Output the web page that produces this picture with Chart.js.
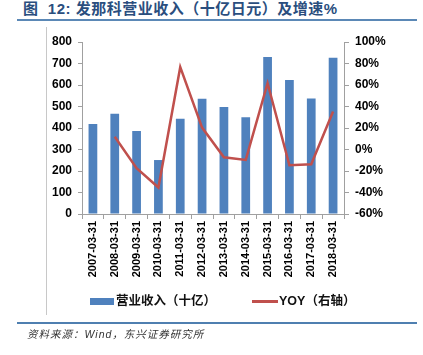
<!DOCTYPE html>
<html><head><meta charset="utf-8">
<script src="https://cdn.jsdelivr.net/npm/chart.js@4/dist/chart.umd.min.js"></script>
<style>
html,body{margin:0;padding:0;background:#fff;width:423px;height:355px;overflow:hidden;position:relative;font-family:"Liberation Sans","Noto Sans CJK SC",sans-serif;}
#title{position:absolute;left:23px;top:0px;font-size:15px;font-weight:bold;color:#2A4E7E;white-space:pre;letter-spacing:0.5px;font-family:"Liberation Sans","Noto Sans CJK SC",sans-serif;line-height:17px;}
#topline{position:absolute;left:17px;top:19px;width:400px;height:2px;background:#5B88B6;}
#vline{position:absolute;left:46px;top:27px;width:1px;height:288px;background:#c8c8c8;}
#botline{position:absolute;left:17px;top:322px;width:400px;height:2px;background:#4F7FB0;}
#src{position:absolute;left:27px;top:327px;font-size:10.5px;font-style:italic;color:#333;white-space:nowrap;letter-spacing:1px;line-height:14px;}
#c{position:absolute;left:0;top:0;}
.leg{position:absolute;top:293px;font-size:12.5px;font-weight:bold;color:#111;white-space:nowrap;line-height:16px;font-family:"Liberation Sans","Noto Sans CJK SC",sans-serif;}
.sw{position:absolute;}
</style></head>
<body>
<div id="title">图  12: 发那科营业收入（十亿日元）及增速%</div>
<div id="topline"></div>
<div id="vline"></div>
<canvas id="c" width="423" height="355"></canvas>
<div class="sw" style="left:90px;top:298px;width:24px;height:7px;background:#4F81BD;"></div>
<div class="leg" style="left:116px;">营业收入（十亿）</div>
<div class="sw" style="left:252px;top:300px;width:26px;height:2.5px;background:#C0504D;"></div>
<div class="leg" style="left:279px;">YOY（右轴）</div>
<div id="botline"></div>
<div id="src">资料来源：Wind，东兴证券研究所</div>
<script>
const categories = ["2007-03-31","2008-03-31","2009-03-31","2010-03-31","2011-03-31","2012-03-31","2013-03-31","2014-03-31","2015-03-31","2016-03-31","2017-03-31","2018-03-31"];
const revenue = [419, 466, 386, 251, 443, 536, 498, 450, 730, 623, 537, 727];
const yoy = [null, 11.8, -17.3, -35.4, 76.6, 20.4, -7.3, -9.7, 61.6, -14.7, -13.8, 35.4];
const leftTicks = {min:0, max:800, step:100};
const rightTicks = {min:-60, max:100, step:20};

const tickFont = {family:"Liberation Sans", size:12, weight:"bold"};
new Chart(document.getElementById('c'), {
  data: {
    labels: categories,
    datasets: [
      {type:'line', label:'YOY（右轴）', data: yoy, yAxisID:'y1', borderColor:'#C0504D', borderWidth:2.5, pointRadius:0, tension:0, spanGaps:false, order:0},
      {type:'bar', label:'营业收入（十亿）', data: revenue, yAxisID:'y', backgroundColor:'#4F81BD', barPercentage:0.4, categoryPercentage:1.0, order:1}
    ]
  },
  options: {
    responsive:false, animation:false,
    layout:{padding:{top:42,left:0,right:0,bottom:0}},
    plugins:{legend:{display:false}, title:{display:false}, tooltip:{enabled:false}},
    scales:{
      x:{
        offset:true,
        grid:{display:true, drawOnChartArea:false, drawTicks:true, tickLength:5, color:'#a0a0a0', offset:true},
        border:{display:true, color:'#a0a0a0', width:1},
        ticks:{minRotation:90, maxRotation:90, autoSkip:false, color:'#000', font:{family:"Liberation Sans", size:11, weight:"bold"}, padding:2},
        afterFit:(s)=>{s.height = 355-214;}
      },
      y:{
        position:'left', min:leftTicks.min, max:leftTicks.max,
        ticks:{stepSize:leftTicks.step, color:'#000', font:tickFont, padding:6},
        grid:{display:true, drawOnChartArea:false, drawTicks:true, tickLength:4, color:'#a0a0a0'},
        border:{display:true, color:'#a0a0a0'},
        afterFit:(s)=>{s.width = 82;}
      },
      y1:{
        position:'right', min:rightTicks.min, max:rightTicks.max,
        ticks:{stepSize:rightTicks.step, color:'#000', font:tickFont, padding:6, callback:(v)=>v+'%'},
        grid:{display:true, drawOnChartArea:false, drawTicks:true, tickLength:5, color:'#a0a0a0'},
        border:{display:true, color:'#a0a0a0'},
        afterFit:(s)=>{s.width = 423-344;}
      }
    }
  }
});
</script>
</body></html>
